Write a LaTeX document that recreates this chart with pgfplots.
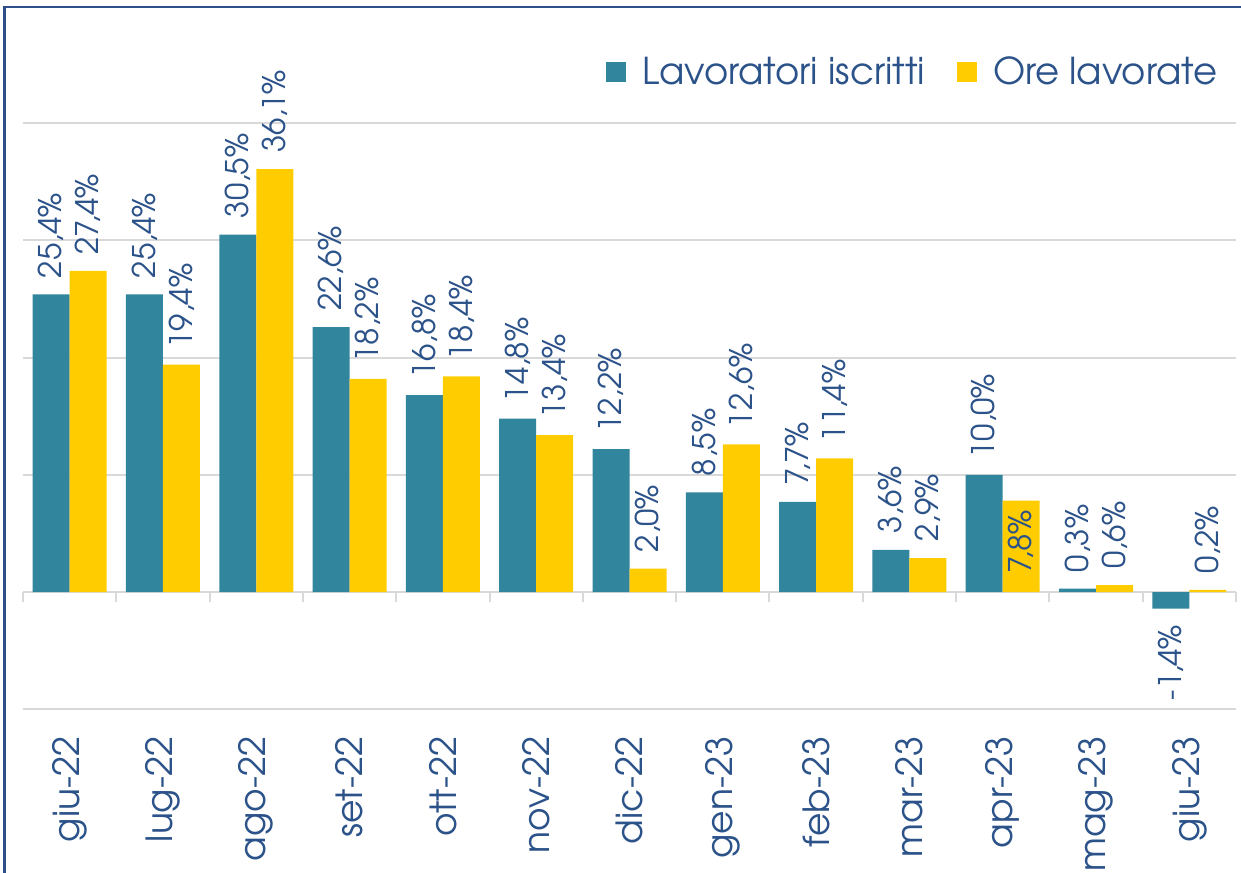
\documentclass[border=0pt]{standalone}
\usepackage{pgfplots}
\pgfplotsset{compat=1.18}
\usepackage{fontspec}
\setmainfont{TeX Gyre Adventor}
\definecolor{teal1}{HTML}{31859C}
\definecolor{gold1}{HTML}{FFCC00}
\definecolor{txtblue}{HTML}{2B5289}
\definecolor{gridgray}{HTML}{D9D9D9}
\definecolor{framec}{HTML}{2F4F8A}

\begin{document}
\begin{tikzpicture}
\useasboundingbox (-11.5pt,-81.5pt) rectangle (609pt,354.65pt);
\draw[framec, line width=1.25pt] (-9.25pt,-100pt) -- (-9.25pt,351.15pt) -- (620pt,351.15pt);
\begin{axis}[
  at={(0pt,0pt)}, anchor=south west,
  scale only axis, width=606.5pt, height=351.6pt,
  xmin=-0.5, xmax=12.5, ymin=-10, ymax=50,
  ybar, bar width=18.5pt,
  axis x line*=middle, axis y line*=left,
  y axis line style={draw=none},
  x axis line style={gridgray, line width=1pt},
  ytick={-10,0,...,40}, yticklabels={}, ytick style={draw=none},
  ymajorgrids, grid style={gridgray, line width=1pt},
  xtick={0,...,12},
  xticklabels={giu-22,lug-22,ago-22,set-22,ott-22,nov-22,dic-22,gen-23,feb-23,mar-23,apr-23,mag-23,giu-23},
  major x tick style={draw=none},
  minor xtick={-0.5,0.5,...,12.5},
  minor x tick style={gridgray, line width=1pt},
  minor tick length=5pt,
  xtick align=outside,
  xticklabel style={yshift=-68pt, rotate=90, anchor=east, inner sep=0pt, font=\fontsize{18}{20}\selectfont, text=txtblue},
  legend style={at={(0.988,0.906)}, anchor=east, draw=none, fill=none, inner sep=0pt,
    font=\fontsize{18.5}{21}\selectfont, text=txtblue, legend columns=2,
    /tikz/every odd column/.append style={column sep=6pt},
    /tikz/every even column/.append style={column sep=14pt}},
  legend image code/.code={\fill[#1] (0pt,-5pt) rectangle (10pt,5pt);},
  every node near coord/.append style={rotate=90, anchor=west, inner xsep=8pt, inner ysep=0pt, font=\fontsize{15.6}{17}\selectfont, text=txtblue},
]
% bars
\addplot[fill=teal1, draw=none, bar shift=-9.25pt] coordinates {
 (0,25.4) (1,25.4) (2,30.5) (3,22.6) (4,16.8) (5,14.8) (6,12.2)
 (7,8.5) (8,7.7) (9,3.6) (10,10.0) (11,0.3) (12,-1.4)};
\addplot[fill=gold1, draw=none, bar shift=9.25pt] coordinates {
 (0,27.4) (1,19.4) (2,36.1) (3,18.2) (4,18.4) (5,13.4) (6,2.0)
 (7,12.6) (8,11.4) (9,2.9) (10,7.8) (11,0.6) (12,0.2)};
\legend{Lavoratori iscritti, Ore lavorate}
% data labels
\addplot[forget plot, draw=none, fill=none, bar shift=-9.25pt, point meta=explicit,
  nodes near coords={\pgfmathprintnumber[fixed,fixed zerofill,precision=1,use comma,assume math mode=true]{\pgfplotspointmeta}\%}]
 coordinates {
 (0,25.4) [25.4] (1,25.4) [25.4] (2,30.5) [30.5] (3,22.6) [22.6] (4,16.8) [16.8] (5,14.8) [14.8] (6,12.2) [12.2]
 (7,8.5) [8.5] (8,7.7) [7.7] (9,3.6) [3.6] (10,10.0) [10.0] (11,0.3) [0.3]};
\addplot[forget plot, draw=none, fill=none, bar shift=-9.25pt, point meta=explicit,
  every node near coord/.append style={anchor=east},
  nodes near coords={\pgfmathprintnumber[fixed,fixed zerofill,precision=1,use comma,assume math mode=true]{\pgfplotspointmeta}\%}]
 coordinates {(12,-1.4) [-1.4]};
\addplot[forget plot, draw=none, fill=none, bar shift=9.25pt, point meta=explicit,
  nodes near coords={\pgfmathprintnumber[fixed,fixed zerofill,precision=1,use comma,assume math mode=true]{\pgfplotspointmeta}\%}]
 coordinates {
 (0,27.4) [27.4] (1,19.4) [19.4] (2,36.1) [36.1] (3,18.2) [18.2] (4,18.4) [18.4] (5,13.4) [13.4] (6,2.0) [2.0]
 (7,12.6) [12.6] (8,11.4) [11.4] (9,2.9) [2.9] (10,0.2) [7.8] (11,0.6) [0.6] (12,0.2) [0.2]};
\end{axis}
\end{tikzpicture}
\end{document}
